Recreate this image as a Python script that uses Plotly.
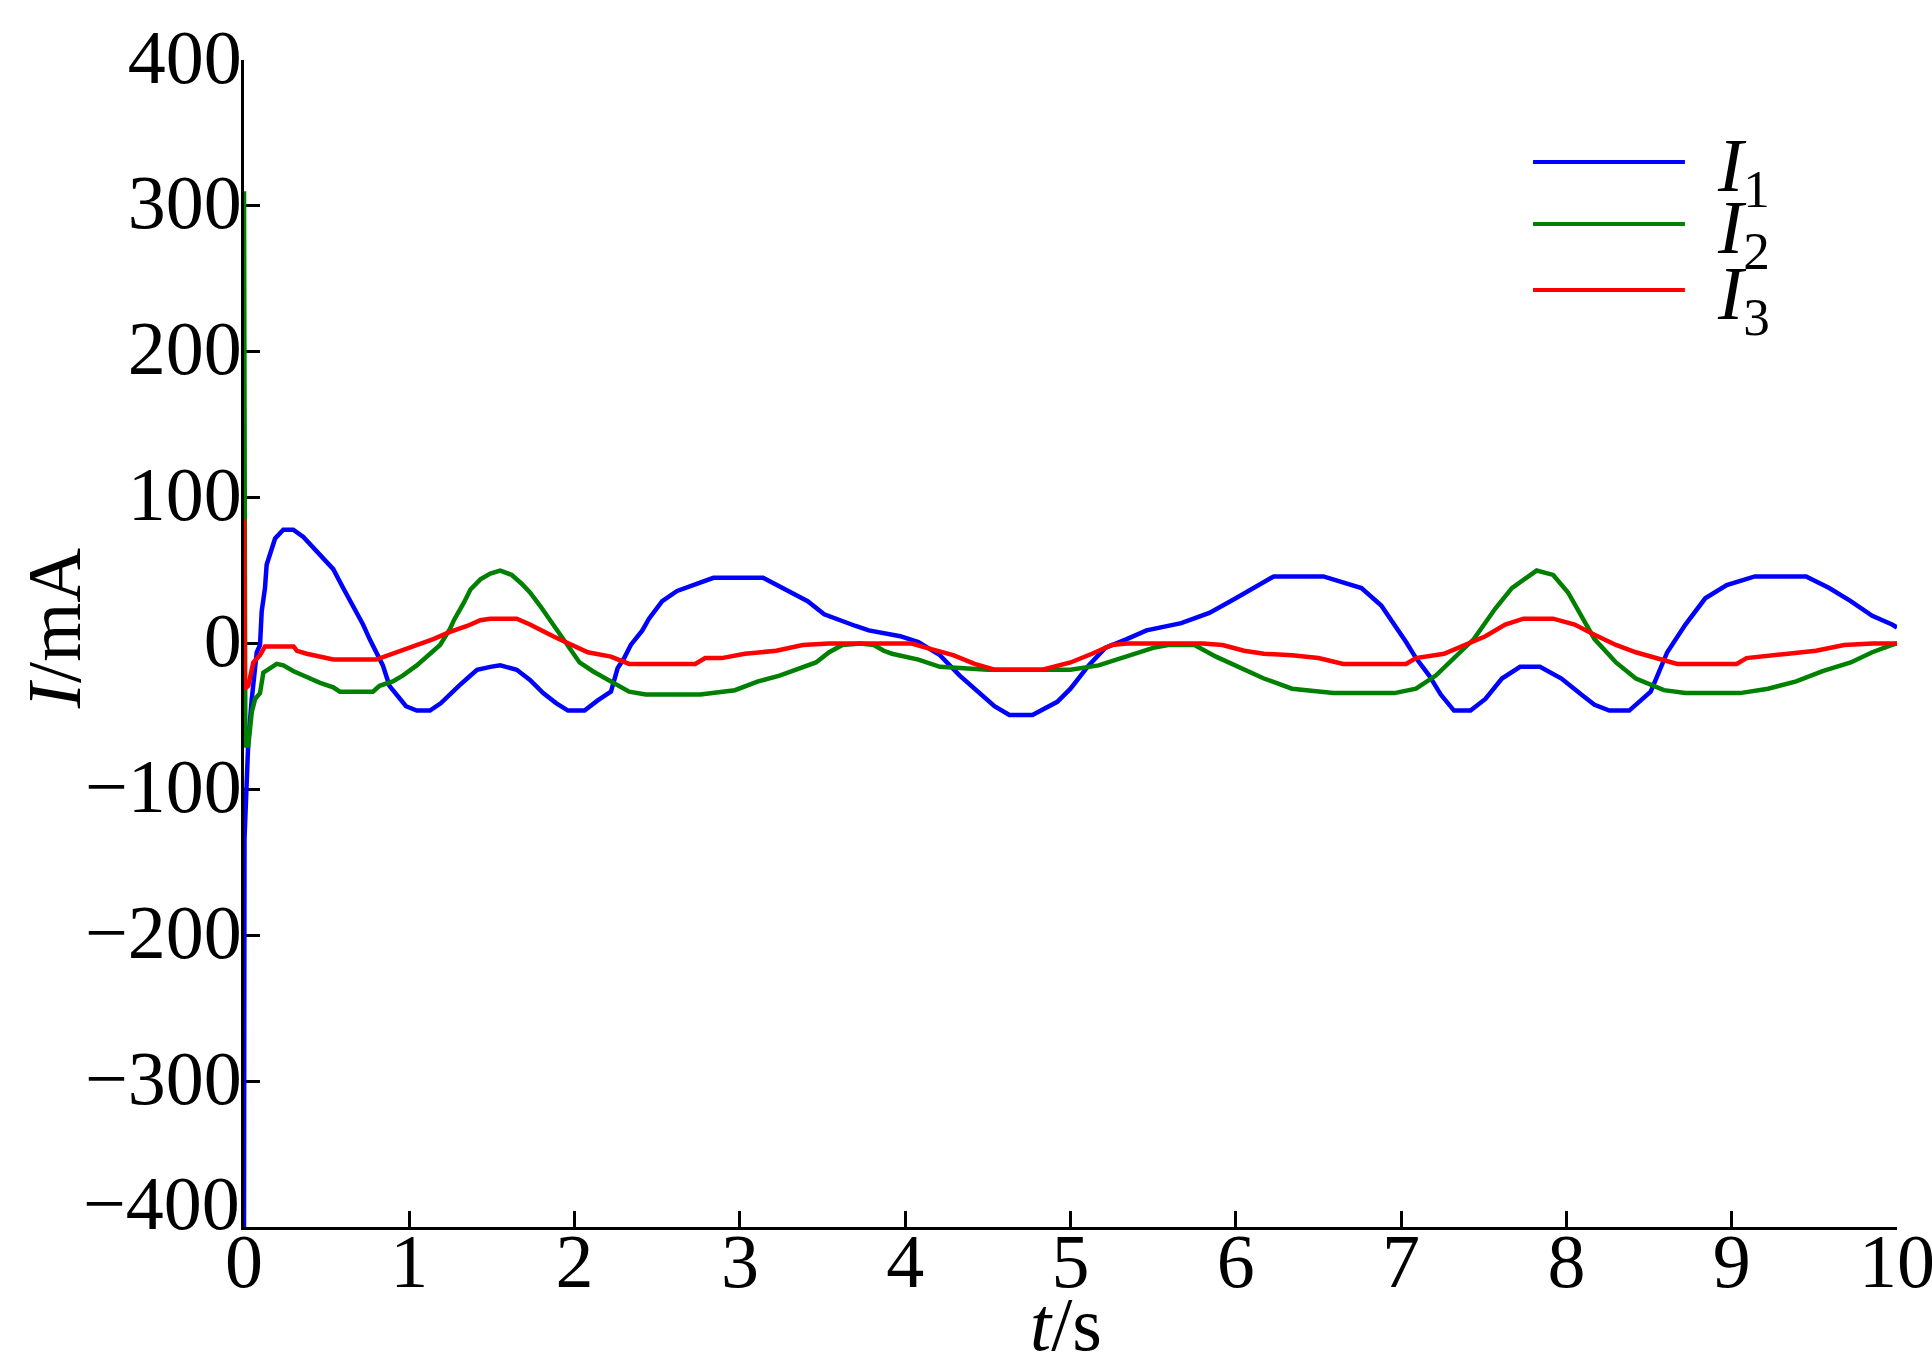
import plotly.graph_objects as go

# ---------------- data ----------------
t1 = [0, 0.003, 0.026, 0.047, 0.077, 0.097, 0.107, 0.127, 0.137, 0.157, 0.188, 0.238, 0.298, 0.359,
      0.44, 0.54, 0.60, 0.66, 0.72, 0.76, 0.80, 0.84, 0.88, 0.94, 0.98, 1.045, 1.125, 1.19, 1.25, 1.30,
      1.35, 1.41, 1.49, 1.55, 1.65, 1.73, 1.81, 1.89, 1.96, 2.06, 2.14, 2.22, 2.26, 2.30, 2.34, 2.41,
      2.45, 2.53, 2.62, 2.70, 2.84, 3.14, 3.22, 3.33, 3.41, 3.51, 3.62, 3.70, 3.78, 3.89, 3.97, 4.08,
      4.21, 4.33, 4.44, 4.54, 4.63, 4.77, 4.92, 5.00, 5.11, 5.21, 5.34, 5.46, 5.67, 5.84, 6.00, 6.17,
      6.23, 6.53, 6.76, 6.88, 6.96, 7.03, 7.09, 7.17, 7.24, 7.32, 7.42, 7.51, 7.61, 7.72, 7.84, 7.97,
      8.09, 8.17, 8.26, 8.38, 8.51, 8.61, 8.72, 8.84, 8.97, 9.14, 9.45, 9.59, 9.72, 9.85, 9.97, 10.0]
I1 = [-400, -134, -67, -38, -6, -1, 22, 38, 54, 62, 72, 78, 78, 73,
      63, 51, 38, 26, 13, 3, -6, -15, -29, -38, -43, -46, -46, -41, -34, -29,
      -24, -18, -16, -15, -18, -25, -34, -41, -46, -46, -39, -33, -17, -10, -1, 9,
      17, 29, 36, 39, 45, 45, 40, 34, 29, 20, 15, 12, 9, 7, 5, 1,
      -8, -22, -33, -43, -49, -49, -40, -31, -15, -3, 3, 9, 14, 21, 31, 42,
      46, 46, 38, 26, 13, 1, -10, -22, -35, -46, -46, -38, -24, -16, -16, -24,
      -35, -42, -46, -46, -33, -6, 13, 31, 40, 46, 46, 38, 29, 19, 13, 11]

t2 = [0, 0.008, 0.026, 0.047, 0.067, 0.097, 0.117, 0.157, 0.198, 0.238, 0.30, 0.38, 0.46, 0.54,
      0.58, 0.78, 0.82, 0.90, 0.96, 1.045, 1.125, 1.186, 1.246, 1.27, 1.33, 1.37, 1.43, 1.49, 1.55,
      1.62, 1.68, 1.73, 1.79, 1.87, 1.95, 2.03, 2.11, 2.22, 2.33, 2.43, 2.76, 2.97, 3.11, 3.24, 3.38,
      3.46, 3.54, 3.62, 3.73, 3.81, 3.87, 3.92, 4.08, 4.21, 4.50, 5.00, 5.17, 5.34, 5.50, 5.59, 5.75,
      5.88, 6.05, 6.17, 6.34, 6.59, 6.96, 7.09, 7.21, 7.34, 7.44, 7.57, 7.67, 7.82, 7.92, 8.01, 8.09,
      8.17, 8.30, 8.42, 8.59, 8.72, 9.05, 9.22, 9.39, 9.55, 9.72, 9.85, 9.97, 10.0]
I2 = [310, -70, -70, -47, -38, -34, -20, -17, -14, -15, -19, -23, -27, -30,
      -33, -33, -29, -26, -22, -15, -7, -1, 10, 16, 28, 37, 44, 48, 50,
      47, 41, 35, 26, 13, -1, -13, -19, -26, -33, -35, -35, -32, -26, -22, -16,
      -13, -6, -1, 0, -1, -5, -7, -11, -16, -18, -18, -15, -9, -3, -1, -1,
      -9, -18, -24, -31, -34, -34, -31, -22, -8, 3, 24, 38, 50, 47, 35, 19,
      3, -13, -24, -32, -34, -34, -31, -26, -19, -13, -6, -1, 0]

t3 = [0, 0.005, 0.026, 0.056, 0.097, 0.127, 0.30, 0.32, 0.38, 0.50, 0.54, 0.80, 0.90, 0.98,
      1.065, 1.145, 1.246, 1.35, 1.43, 1.49, 1.65, 1.73, 1.87, 1.98, 2.08, 2.22, 2.33, 2.73, 2.79,
      2.89, 3.03, 3.22, 3.38, 3.54, 4.04, 4.13, 4.29, 4.42, 4.54, 4.83, 5.00, 5.13, 5.25, 5.34, 5.80,
      5.92, 6.05, 6.17, 6.34, 6.50, 6.65, 7.03, 7.09, 7.26, 7.38, 7.51, 7.63, 7.74, 7.92, 8.05, 8.17,
      8.30, 8.42, 8.55, 8.67, 9.03, 9.09, 9.34, 9.51, 9.68, 9.85, 10.0]
I3 = [85, -31, -29, -13, -8, -2, -2, -5, -7, -10, -11, -11, -7, -4,
      0, 3, 8, 12, 16, 17, 17, 13, 5, -1, -6, -9, -14, -14, -10,
      -10, -7, -5, -1, 0, 0, -3, -8, -14, -18, -18, -13, -7, -1, 0, 0,
      -1, -5, -7, -8, -10, -14, -14, -10, -7, -1, 5, 13, 17, 17, 13, 6,
      -1, -6, -10, -14, -14, -10, -7, -5, -1, 0, 0]

series_names = ["<i>I</i><sub>1</sub>", "<i>I</i><sub>2</sub>", "<i>I</i><sub>3</sub>"]
series_colors = ["#0000FF", "#008000", "#FF0000"]
x_ticks = list(range(0, 11))
y_ticks = list(range(-400, 401, 100))
# the bottom label (−400) is drawn separately, raised so it sits on the axis as in the reference
y_ticktext = ["" if v == -400 else str(v).replace("-", "\u2212") for v in y_ticks]
bottom_label = str(y_ticks[0]).replace("-", "\u2212")

FONT = "Liberation Serif, Times New Roman, serif"

fig = go.Figure()
for tx, vy, nm, col in zip([t1, t2, t3], [I1, I2, I3], series_names, series_colors):
    fig.add_trace(go.Scatter(x=tx, y=vy, mode="lines", name=nm,
                             line=dict(color=col, width=4.5), showlegend=False))

axis_common = dict(showline=True, linecolor="black", linewidth=3, mirror=False,
                   ticks="inside", ticklen=16, tickwidth=3, tickcolor="black",
                   showgrid=False, zeroline=False, layer="below traces",
                   automargin=False, ticklabeloverflow="allow",
                   tickfont=dict(family=FONT, size=76, color="black"))

fig.update_layout(
    width=1932, height=1368,
    margin=dict(l=244, r=35, t=60, b=141),
    paper_bgcolor="white", plot_bgcolor="white",
    font=dict(family=FONT, color="black"),
    showlegend=False,
    xaxis=dict(range=[0, 10], tickvals=x_ticks, ticklabelstandoff=-34, **axis_common),
    yaxis=dict(range=[-400, 400], tickvals=y_ticks, ticktext=y_ticktext,
               ticklabelstandoff=-16, ticklabelshift=-4, **axis_common),
)

# raised bottom y tick label
fig.add_annotation(text=bottom_label, x=0, y=y_ticks[0], xref="paper", yref="y",
                   xanchor="right", yanchor="bottom", xshift=-2, yshift=-20, showarrow=False,
                   font=dict(family=FONT, size=76, color="black"))

# axis titles
fig.add_annotation(text="<i>t</i>/s", x=0.497, y=-0.083, xref="paper", yref="paper",
                   xanchor="center", yanchor="middle", showarrow=False,
                   font=dict(family=FONT, size=76, color="black"))
fig.add_annotation(text="<i>I</i>/mA", x=-0.115, y=0.513, xref="paper", yref="paper",
                   xanchor="center", yanchor="middle", showarrow=False, textangle=-90,
                   font=dict(family=FONT, size=76, color="black"))

# manual legend
leg_y = [0.9126, 0.8595, 0.8029]
for nm, col, yy in zip(series_names, series_colors, leg_y):
    fig.add_shape(type="line", xref="paper", yref="paper", x0=0.7798, x1=0.8717, y0=yy, y1=yy,
                  line=dict(color=col, width=4))
    fig.add_annotation(text=nm, x=0.8838, y=yy, xref="paper", yref="paper",
                       xanchor="left", yanchor="middle", xshift=10, yshift=-9, showarrow=False,
                       font=dict(family=FONT, size=76, color="black"))

fig.write_html("out.html", config={"displayModeBar": False},
               post_script="document.body.style.margin='0';")
